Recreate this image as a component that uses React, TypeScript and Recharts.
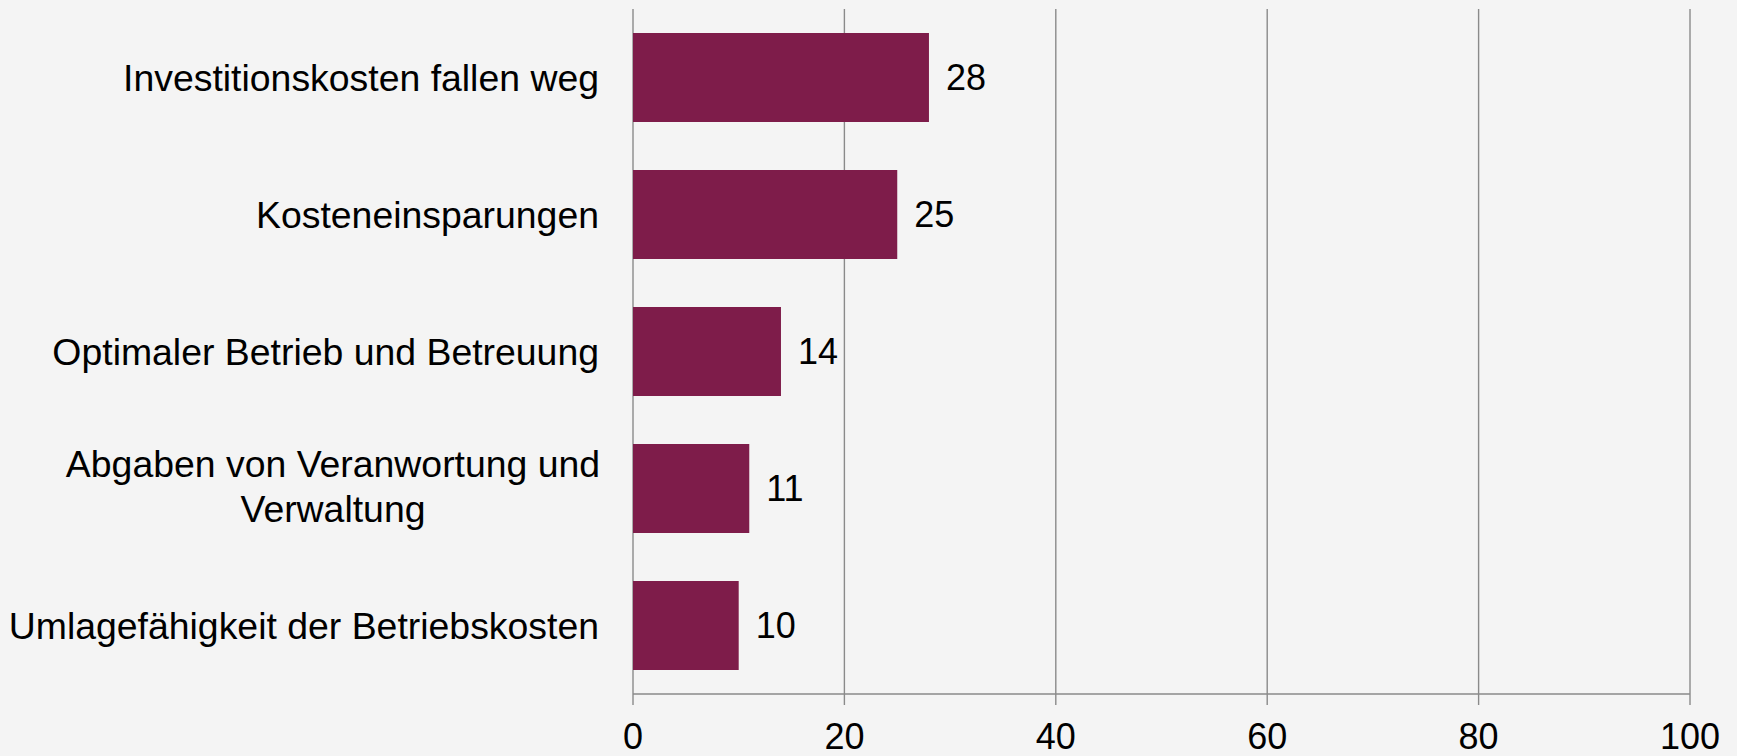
import React from "react";
import { BarChart, Bar, XAxis, YAxis, CartesianGrid, LabelList } from "recharts";

const categories = [
  "Investitionskosten fallen weg",
  "Kosteneinsparungen",
  "Optimaler Betrieb und Betreuung",
  "Abgaben von Veranwortung und\nVerwaltung",
  "Umlagefähigkeit der Betriebskosten",
];
const values = [28, 25, 14, 11, 10];
const xTicks = [0, 20, 40, 60, 80, 100];

const data = categories.map((name, i) => ({ name, value: values[i] }));

const FONT = "'Liberation Sans', Arial, sans-serif";
const GRID = "#8a8a8a";

// category labels on the left, multi-line ones are centred like in Excel
const CategoryTick = (props: any) => {
  const { x, y, payload } = props;
  const lines: string[] = String(payload.value).split("\n");
  if (lines.length === 1) {
    return (
      <text x={x} y={y} dy="0.36em" textAnchor="end" fontSize={37.4} fontFamily={FONT} fill="#000">
        {lines[0]}
      </text>
    );
  }
  const lineH = 45;
  const cx = x - 266;
  return (
    <text x={cx} y={y} textAnchor="middle" fontSize={37.4} fontFamily={FONT} fill="#000">
      {lines.map((l, i) => (
        <tspan key={i} x={cx} y={y - 2 + (i - (lines.length - 1) / 2) * lineH} dy="0.36em">
          {l}
        </tspan>
      ))}
    </text>
  );
};

export default function App() {
  return (
    <div style={{ position: "absolute", left: 0, top: 0, width: 1737, height: 756, background: "#f4f4f4" }}>
      <BarChart
        width={1737}
        height={756}
        data={data}
        layout="vertical"
        margin={{ top: 9, right: 47, left: 0, bottom: 0 }}
        barCategoryGap="17.5%"
      >
        <CartesianGrid horizontal={false} stroke={GRID} strokeWidth={1.4} />
        <XAxis
          type="number"
          domain={[0, 100]}
          ticks={xTicks}
          interval={0}
          height={62}
          stroke={GRID}
          strokeWidth={1.4}
          tickSize={11}
          tickMargin={18}
          tick={{ fontSize: 36, fontFamily: FONT, fill: "#000" }}
        />
        <YAxis
          type="category"
          dataKey="name"
          width={633}
          axisLine={false}
          tickLine={false}
          tickSize={0}
          tickMargin={34}
          interval={0}
          tick={<CategoryTick />}
        />
        <Bar dataKey="value" fill="#7e1c4a" isAnimationActive={false}>
          <LabelList dataKey="value" position="right" offset={17} fontSize={36} fontFamily={FONT} fill="#000" />
        </Bar>
      </BarChart>
    </div>
  );
}
